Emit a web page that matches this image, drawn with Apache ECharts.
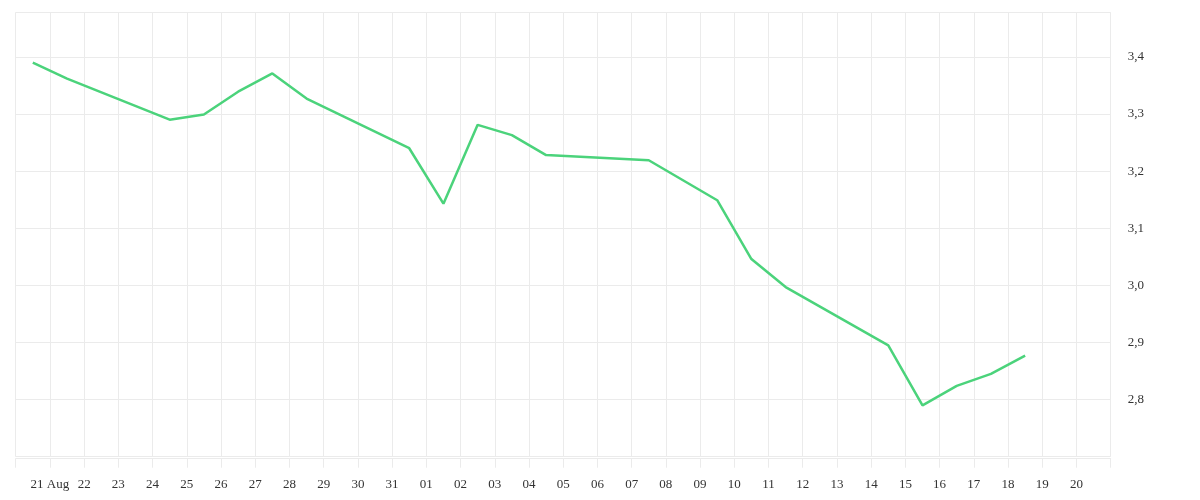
<!DOCTYPE html>
<html>
<head>
<meta charset="utf-8">
<script src="https://cdn.jsdelivr.net/npm/echarts@6/dist/echarts.min.js"></script>
<style>
  html, body { margin: 0; padding: 0; background: #ffffff; }
  #chart { width: 1200px; height: 500px; }
</style>
</head>
<body>
<div id="chart"></div>
<script>
// ---- data ----
const startDate = '2020-08-20';
const dates = [
  '2020-08-20', '2020-08-21', '2020-08-24', '2020-08-25', '2020-08-26', '2020-08-27',
  '2020-08-28', '2020-08-31', '2020-09-01', '2020-09-02', '2020-09-03', '2020-09-04',
  '2020-09-07', '2020-09-09', '2020-09-10', '2020-09-11', '2020-09-14', '2020-09-15',
  '2020-09-16', '2020-09-17', '2020-09-18'
];
const values = [
  3.390, 3.362, 3.290, 3.299, 3.339, 3.371,
  3.327, 3.240, 3.143, 3.281, 3.263, 3.228,
  3.219, 3.149, 3.046, 2.997, 2.895, 2.790,
  2.824, 2.845, 2.877
];
const xTickLabels = [
  '', '21 Aug', '22', '23', '24', '25', '26', '27', '28', '29', '30', '31',
  '01', '02', '03', '04', '05', '06', '07', '08', '09', '10', '11', '12',
  '13', '14', '15', '16', '17', '18', '19', '20', ''
];
const yTickValues = [2.8, 2.9, 3.0, 3.1, 3.2, 3.3, 3.4];
const yTickLabels = ['2,8', '2,9', '3,0', '3,1', '3,2', '3,3', '3,4'];

// ---- build ----
const DAY = 86400000;
const t0 = Date.parse(startDate + 'T00:00:00Z');
const seriesData = dates.map((d, i) => [
  (Date.parse(d + 'T12:00:00Z') - t0) / DAY,
  values[i]
]);

const gridColor = '#ebebeb';
const textStyle = { color: '#333333', fontFamily: 'Liberation Serif', fontSize: 13 };

const chart = echarts.init(document.getElementById('chart'), null, { renderer: 'canvas' });
chart.setOption({
  animation: false,
  backgroundColor: '#ffffff',
  grid: { left: 15.7, right: 89.3, top: 12.3, bottom: 43.3 },
  xAxis: {
    type: 'value',
    min: 0,
    max: xTickLabels.length - 1,
    interval: 1,
    offset: 2,
    axisLine: { show: true, lineStyle: { color: gridColor, width: 1 } },
    axisTick: { show: true, length: 9, lineStyle: { color: gridColor, width: 1 } },
    splitLine: { show: true, lineStyle: { color: gridColor, width: 1 } },
    axisLabel: Object.assign({
      margin: 19,
      showMinLabel: true,
      showMaxLabel: true,
      formatter: function (v) {
        const i = Math.round(v);
        return xTickLabels[i] || '';
      }
    }, textStyle)
  },
  yAxis: {
    type: 'value',
    position: 'right',
    min: 2.7,
    max: 3.478,
    interval: 0.1,
    axisLine: { show: false },
    axisTick: { show: false },
    splitLine: { show: true, lineStyle: { color: gridColor, width: 1 } },
    axisLabel: Object.assign({
      margin: 17,
      padding: [4, 0, 0, 0],
      showMinLabel: false,
      showMaxLabel: false,
      formatter: function (v) {
        for (let i = 0; i < yTickValues.length; i++) {
          if (Math.abs(yTickValues[i] - v) < 1e-6) return yTickLabels[i];
        }
        return '';
      }
    }, textStyle)
  },
  series: [{
    type: 'line',
    data: seriesData,
    showSymbol: false,
    symbol: 'none',
    lineStyle: { color: '#4bd37b', width: 2.5 },
    itemStyle: { color: '#4bd37b' }
  }]
});
</script>
</body>
</html>
